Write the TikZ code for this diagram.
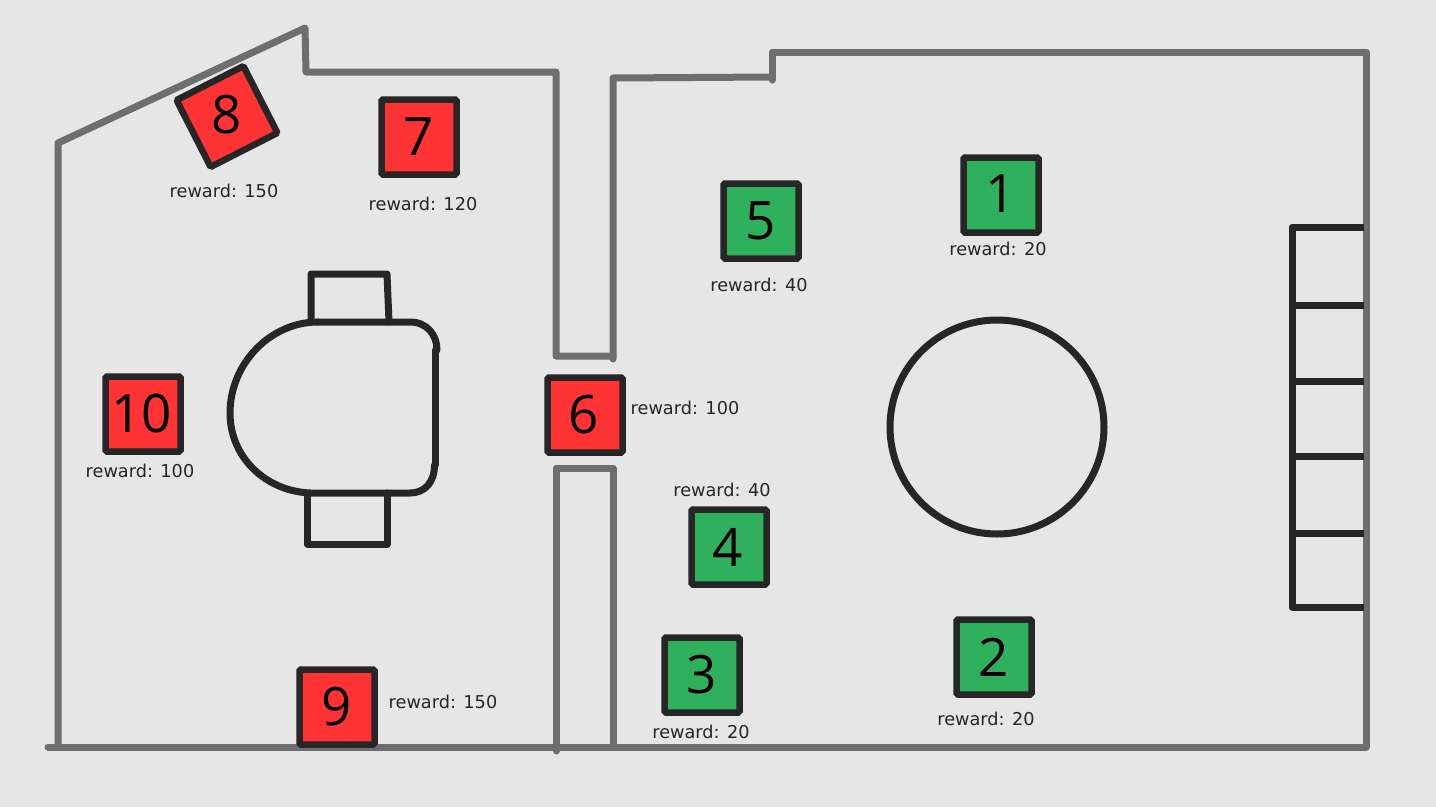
\documentclass[tikz,border=0pt]{standalone}
\usepackage{fontspec}
\setmainfont{DejaVu Sans}
\newfontfamily\digitfont{Open Sans}
\definecolor{bgc}{HTML}{E6E6E6}
\definecolor{wallc}{HTML}{6E6E6E}
\definecolor{inkc}{HTML}{262626}
\definecolor{redc}{HTML}{FF3333}
\definecolor{greenc}{HTML}{2FB05C}
\tikzset{
  wall/.style={draw=wallc,line width=7pt,line cap=round,line join=round},
  furn/.style={draw=inkc,line width=7pt,line cap=round,line join=round},
  goalbox/.style={draw=inkc,line width=6.5pt,rounded corners=1.5pt,minimum size=75pt,inner sep=0pt,text=black,font=\digitfont\fontsize{53}{53}\selectfont},
  redbox/.style={goalbox,fill=redc},
  greenbox/.style={goalbox,fill=greenc},
  digit/.style={inner sep=0pt,text=black,font=\digitfont\fontsize{53}{53}\selectfont},
  rewardtext/.style={text=inkc,inner sep=0pt,font=\fontsize{17.7}{19}\selectfont}
}
\begin{document}
\begin{tikzpicture}[x=1pt,y=-1pt]
\useasboundingbox (0,0) rectangle (1436,807);
\fill[bgc] (0,0) rectangle (1436,807);
% walls
\draw[wall] (58,747) -- (58,143) -- (305,28) -- (306,72) -- (556,72) -- (556,356) -- (613,356);
\draw[wall] (613,359) -- (613,78) -- (772,77);
\draw[wall] (772,80) -- (772,52) -- (1366,52) -- (1366,747) -- (48,747);
\draw[wall] (556,751) -- (556,468) -- (613,468) -- (613,747);
% table and chairs
\draw[furn] (311,322) -- (311,274) -- (387,274) -- (389,322);
\draw[furn] (307,495) -- (307,544) -- (387,544) -- (387,493);
\draw[furn] (318,322) -- (410,322) .. controls (427,322) and (437,335) .. (437,350);
\draw[furn] (435.5,350) -- (435.5,465);
\draw[furn] (434.5,465) .. controls (434.5,482) and (425,493) .. (410,493) -- (318,493)
  .. controls (270,495) and (230,460) .. (230,413) .. controls (230,364) and (270,322) .. (318,322);
\draw[furn] (997,427) circle[radius=107];
% ladder
\draw[furn,line cap=butt] (1364,227) -- (1292,227) -- (1292,607) -- (1364,607);
\draw[furn,line cap=butt] (1292,305.5) -- (1364,305.5);
\draw[furn,line cap=butt] (1292,381) -- (1364,381);
\draw[furn,line cap=butt] (1292,456) -- (1364,456);
\draw[furn,line cap=butt] (1292,533) -- (1364,533);
% goals
\node[greenbox] (g1) at (1001,195) {\raisebox{2pt}{1}};
\node[greenbox] (g2) at (994,657) {2};
\node[greenbox] (g3) at (702,675) {3};
\node[greenbox] (g4) at (729,547) {\hspace*{-3pt}4};
\node[greenbox] (g5) at (761,221) {5};
\node[redbox] (g6) at (585,415) {\hspace*{-3pt}6};
\node[redbox] (g7) at (419,137) {7};
\node[redbox,rotate=27] (g8) at (227,116.5) {};
\node[digit] (d8) at (227,115) {8};
\node[redbox] (g9) at (337,707) {9};
\node[redbox] (g10) at (143,414) {\hspace*{-3pt}10};
% labels
\node[rewardtext] (r1) at (998,249) {reward: 20};
\node[rewardtext] (r2) at (986,719) {reward: 20};
\node[rewardtext] (r3) at (701,732) {reward: 20};
\node[rewardtext] (r4) at (722,490) {reward: 40};
\node[rewardtext] (r5) at (759,285) {reward: 40};
\node[rewardtext] (r6) at (685,408) {reward: 100};
\node[rewardtext] (r7) at (423,204) {reward: 120};
\node[rewardtext] (r8) at (224,191) {reward: 150};
\node[rewardtext] (r9) at (443,702) {reward: 150};
\node[rewardtext] (r10) at (140,471) {reward: 100};
\end{tikzpicture}
\end{document}
